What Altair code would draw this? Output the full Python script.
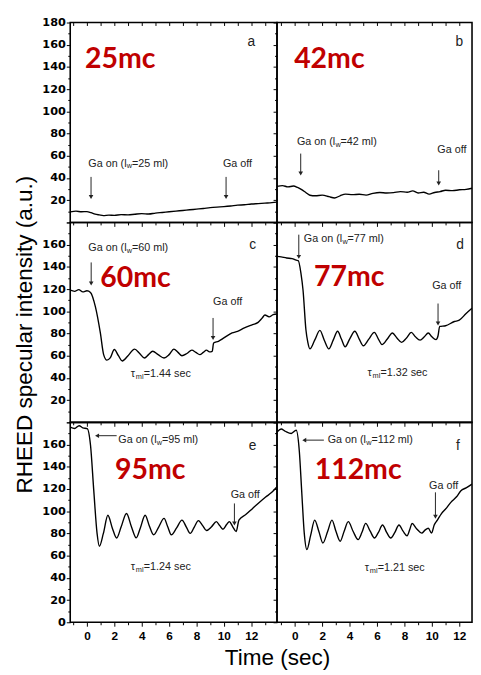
import altair as alt
import pandas as pd

# ---------------- data ----------------
t_a = [-1.2, -0.8, -0.4, 0.0, 0.3, 0.6, 0.9, 1.2, 1.6, 2.0, 2.5, 3.0, 3.5, 4.0, 4.5, 5.0, 5.5, 6.0, 6.5,
       7.0, 7.5, 8.0, 8.5, 9.0, 9.5, 10.0, 10.5, 11.0, 11.5, 12.0, 12.5, 13.0, 13.5, 13.88]
v_a = [9.5, 10.2, 9.6, 9.8, 8.8, 7.5, 6.8, 6.2, 6.6, 6.4, 7.0, 6.8, 7.4, 7.9, 7.6, 8.4, 9.0, 9.6, 10.2,
       10.8, 11.4, 12.0, 12.6, 13.3, 13.8, 14.2, 14.8, 15.6, 15.9, 16.6, 17.0, 17.4, 17.8, 18.3]

t_b = [-1.3, -0.9, -0.5, -0.1, 0.2, 0.5, 0.8, 1.1, 1.5, 2.0, 2.5, 2.9, 3.3, 3.7, 4.2, 4.7, 5.2, 5.7, 6.2,
       6.7, 7.2, 7.7, 8.2, 8.6, 9.0, 9.4, 9.8, 10.2, 10.6, 11.0, 11.5, 12.0, 12.5, 12.93]
v_b = [32.5, 33.2, 32.0, 32.8, 31.5, 29.5, 27.0, 24.5, 24.0, 24.6, 23.2, 22.0, 24.0, 25.5, 25.0, 25.4, 24.6,
       26.2, 27.0, 26.5, 26.8, 27.8, 27.2, 28.4, 26.5, 27.2, 25.5, 27.0, 27.8, 29.0, 28.6, 29.4, 29.8, 30.8]

t_c = [-1.22, -0.9, -0.6, -0.3, 0.0, 0.26, 0.62, 0.98, 1.22, 1.46, 1.7, 2.0, 2.3, 2.58, 3.0, 3.48, 3.85,
       4.2, 4.5, 4.8, 5.2, 5.63, 6.0, 6.35, 6.65, 6.94, 7.3, 7.66, 7.95, 8.24, 8.5, 8.73, 8.95, 9.15, 9.25,
       9.6, 10.0, 10.6, 11.0, 11.5, 12.1, 12.5, 12.8, 13.0, 13.3, 13.6, 13.88]
v_c = [119, 118, 119.5, 117.5, 118.5, 117, 104, 80.5, 61, 56, 58, 65.6, 60, 55.3, 60, 66, 62,
       58, 61, 64, 61, 58, 61, 66, 63, 60, 62, 65, 63, 61, 63, 65, 63.5, 64, 71.5,
       73, 76, 80.5, 82, 85, 88, 90, 94, 96.7, 95, 97, 97.6]

t_d = [-1.3, -1.0, -0.6, -0.2, 0.1, 0.25, 0.45, 0.6, 0.81, 0.95, 1.1, 1.45, 1.83, 2.15, 2.48, 2.8, 3.12,
       3.4, 3.67, 4.0, 4.38, 4.7, 5.0, 5.4, 5.8, 6.1, 6.36, 6.75, 7.12, 7.45, 7.79, 8.15, 8.5, 8.8, 9.14,
       9.45, 9.74, 10.0, 10.3, 10.45, 10.57, 11.0, 11.64, 12.0, 12.5, 12.93]
v_d = [149.5, 149, 148, 147.5, 146, 145.6, 134, 119, 83.4, 72, 66.2, 74, 82.8, 74, 66.2, 74, 82,
       75, 68, 75, 82, 75, 69, 75, 81, 75, 70, 75, 80.5, 76, 72, 76, 81, 77, 74,
       77, 80.5, 77, 74.5, 78, 86.4, 87, 90.8, 92, 98, 102.7]

t_e = [-1.22, -0.9, -0.57, -0.3, 0.02, 0.26, 0.5, 0.74, 0.91, 1.2, 1.53, 1.85, 2.17, 2.5, 2.89, 3.25, 3.6,
       3.9, 4.25, 4.55, 4.87, 5.25, 5.63, 5.9, 6.16, 6.55, 6.94, 7.25, 7.54, 7.85, 8.14, 8.45, 8.73, 9.1,
       9.45, 9.7, 9.93, 10.2, 10.4, 10.65, 10.9, 11.1, 11.6, 12.08, 12.5, 13.03, 13.5, 13.88]
v_e = [175.8, 174.5, 177, 175, 174.4, 159.6, 118.5, 80, 68.5, 80, 96.4, 85, 75.9, 86, 97.9, 86, 76,
       85, 96.4, 87, 78.8, 86, 93.5, 86, 78.8, 85, 92, 86, 80, 86, 91.5, 87, 82.6, 86,
       90.6, 87, 83.8, 88, 90.6, 86, 81.7, 92, 97, 102.3, 107, 112.6, 117, 122]

t_f = [-1.3, -1.0, -0.7, -0.26, 0.1, 0.33, 0.5, 0.69, 0.88, 1.15, 1.45, 1.75, 2.05, 2.4, 2.71, 3.0, 3.31,
       3.6, 3.9, 4.25, 4.62, 4.9, 5.17, 5.5, 5.81, 6.1, 6.4, 6.7, 7.0, 7.3, 7.6, 7.9, 8.19, 8.4, 8.55,
       8.9, 9.26, 9.5, 9.74, 9.98, 10.17, 10.4, 10.7, 11.0, 11.4, 11.8, 12.12, 12.5, 12.93]
v_f = [171.4, 174, 172, 170, 172.9, 153.8, 118.5, 80, 65.5, 78, 92, 82, 71.4, 82, 92, 82, 73,
       82, 90.6, 82, 74.4, 81, 89, 82, 75.9, 81, 87.6, 81, 75.9, 81, 87.6, 82, 77.9, 84, 89,
       84, 80.3, 83, 84.7, 80.3, 87.6, 92, 97.9, 102, 108.2, 113, 118.5, 121, 124.4]

panel_letters = ["a", "b", "c", "d", "e", "f"]
letter_x = [12.0, 12.0, 12.1, 12.05, 12.1, 11.9]
letter_y = [162, 162, 160, 160, 159, 159]

red_labels = ["25mc", "42mc", "60mc", "77mc", "95mc", "112mc"]
red_x = [-0.14, -0.05, 0.98, 1.4, 2.05, 1.45]
red_y = [147, 147, 130, 131, 137, 137]

on_pre = "Ga on (l"
on_sub = "w"
on_post = ["=25 ml)", "=42 ml)", "=60 ml)", "=77 ml)", "=95 ml)", "=112 ml)"]
on_x = [0.1, 0.15, 0.1, 0.66, 2.29, 2.4]
on_y = [53, 72, 156.6, 165, 164, 164]

off_text = "Ga off"
off_x = [9.93, 10.4, 9.21, 10.02, 10.5, 9.8]
off_y = [53, 65.6, 108.6, 122.5, 114.6, 122.9]

# arrows: start (x1, y1) -> tip (x2, y2)
arr_on_x1 = [0.3, 0.43, 0.31, 0.29, 2.17, 2.12]
arr_on_y1 = [41, 62, 144, 169, 168, 164]
arr_on_x2 = [0.3, 0.43, 0.31, 0.29, 0.74, 0.69]
arr_on_y2 = [23, 44, 125, 149, 168, 164]
arr_on_shape = ["triangle-down", "triangle-down", "triangle-down", "triangle-down", "triangle-left", "triangle-left"]
arr_off_x = [10.16, 10.5, 9.21, 10.45, 10.77, 10.26]
arr_off_y1 = [41, 47, 94, 107, 107, 117]
arr_off_y2 = [23, 35, 76, 89, 89, 95]

tau_main = "\u03c4"
tau_sub = "ml"
tau_post = [None, None, "=1.44 sec", "=1.32 sec", "=1.24 sec", "=1.21 sec"]
tau_x = [None, None, 3.2, 5.3, 3.2, 5.1]
tau_y = [None, None, 43.4, 44, 50, 49]

T = [t_a, t_b, t_c, t_d, t_e, t_f]
V = [v_a, v_b, v_c, v_d, v_e, v_f]

# ---------------- layout ----------------
LEFT_DOM = [-1.22, 13.88]
RIGHT_DOM = [-1.3, 12.93]
W_L, W_R, H = 211, 199, 204
INK = "#222222"
ANN_FONT = "Liberation Sans"


def build_panel(i):
    row, col = divmod(i, 2)
    left = col == 0
    dom = LEFT_DOM if left else RIGHT_DOM
    width = W_L if left else W_R
    xticks = list(range(-1, 14)) if left else list(range(-1, 13))
    bottom = row == 2

    xkw = dict(values=xticks, domain=False, grid=False, tickColor="black", tickWidth=1,
               tickSize={"condition": {"test": "datum.value % 2 == 0", "value": 4}, "value": 2.5})
    if bottom:
        xkw.update(labels=True, labelExpr="datum.value >= 0 && datum.value <= 12 && datum.value % 2 == 0 ? datum.label : ''",
                   labelFont="Liberation Sans", labelFontWeight="bold", labelFontSize=12, labelColor="black",
                   labelPadding=5)
    else:
        xkw.update(labels=False)
    if bottom and left:
        xkw.update(title="Time (sec)", titleFont="Liberation Sans", titleFontSize=23, titleFontWeight="normal",
                   titleColor="black", titleX=211, titleY=36, titleBaseline="middle", titleAlign="center")
    else:
        xkw.update(title=None)
    xaxis = alt.Axis(**xkw)

    # ticks along the top border, pointing into the panel (first row only)
    top_axis = alt.Axis(orient="top", values=xticks, domain=False, grid=False, labels=False, title=None,
                        tickColor="black", tickWidth=1, tickSize=3, offset=-3)

    lo, hi = [(20, 180), (20, 160), (0, 160)][row]
    ykw = dict(values=list(range(0, 181, 10)), domain=False, grid=False, tickColor="black", tickWidth=1,
               tickSize={"condition": {"test": "datum.value % 20 == 0", "value": 4}, "value": 2.5})
    if left:
        ykw.update(labels=True,
                   labelExpr=f"datum.value % 20 == 0 && datum.value >= {lo} && datum.value <= {hi} ? datum.label : ''",
                   labelFont="DejaVu Sans", labelFontWeight="bold", labelFontSize=11.5, labelColor="black",
                   labelPadding=1)
    else:
        ykw.update(labels=False)
    if left and row == 1:
        ykw.update(title="RHEED specular intensity (a.u.)", titleFont="Liberation Sans", titleFontSize=23,
                   titleFontWeight="normal", titleColor="black", titleX=-46, titleY=114,
                   titleBaseline="middle", titleAlign="center", titleAngle=270)
    else:
        ykw.update(title=None)
    yaxis = alt.Axis(**ykw)

    xs = alt.Scale(domain=dom, nice=False, zero=False)
    ys = alt.Scale(domain=[0, 180], nice=False)

    def X(ax=None):
        if ax is None:
            return alt.X("t:Q", scale=xs, axis=None)
        return alt.X("t:Q", scale=xs, axis=ax)

    def Y():
        return alt.Y("v:Q", scale=ys, axis=yaxis)

    layers = []
    line_df = pd.DataFrame({"t": T[i], "v": V[i]})
    layers.append(alt.Chart(line_df).mark_line(color="black", strokeWidth=1.4, interpolate="monotone", clip=True)
                  .encode(x=X(xaxis), y=Y()))

    red_df = pd.DataFrame({"t": [red_x[i]], "v": [red_y[i]], "txt": [red_labels[i]]})
    layers.append(alt.Chart(red_df).mark_text(align="left", baseline="middle", font="Lato", fontWeight="bold",
                                              fontSize=29, color="#C00000")
                  .encode(x=X(), y=Y(), text="txt:N"))

    let_df = pd.DataFrame({"t": [letter_x[i]], "v": [letter_y[i]], "txt": [panel_letters[i]]})
    layers.append(alt.Chart(let_df).mark_text(align="center", baseline="middle", font=ANN_FONT,
                                              fontSize=14, color=INK)
                  .encode(x=X(top_axis if row == 0 else None), y=Y(), text="txt:N"))

    on_df = pd.DataFrame({"t": [on_x[i]], "v": [on_y[i]], "p1": [on_pre], "p2": [on_sub], "p3": [on_post[i]]})
    layers.append(alt.Chart(on_df).mark_text(align="left", baseline="middle", font=ANN_FONT, fontSize=11, color=INK)
                  .encode(x=X(), y=Y(), text="p1:N"))
    layers.append(alt.Chart(on_df).mark_text(align="left", baseline="middle", font=ANN_FONT, fontSize=7.5,
                                             color=INK, dx=39.3, dy=3)
                  .encode(x=X(), y=Y(), text="p2:N"))
    layers.append(alt.Chart(on_df).mark_text(align="left", baseline="middle", font=ANN_FONT, fontSize=11,
                                             color=INK, dx=44.6)
                  .encode(x=X(), y=Y(), text="p3:N"))

    off_df = pd.DataFrame({"t": [off_x[i]], "v": [off_y[i]], "txt": [off_text]})
    layers.append(alt.Chart(off_df).mark_text(align="left", baseline="middle", font=ANN_FONT, fontSize=11, color=INK)
                  .encode(x=X(), y=Y(), text="txt:N"))

    arr_df = pd.DataFrame({"t": [arr_on_x1[i], arr_off_x[i]], "v": [arr_on_y1[i], arr_off_y1[i]],
                           "t2": [arr_on_x2[i], arr_off_x[i]], "v2": [arr_on_y2[i], arr_off_y2[i]]})
    layers.append(alt.Chart(arr_df).mark_rule(color=INK, strokeWidth=1)
                  .encode(x=X(), y=Y(), x2="t2:Q", y2="v2:Q"))
    tip_df = pd.DataFrame({"t": [arr_on_x2[i], arr_off_x[i]], "v": [arr_on_y2[i], arr_off_y2[i]],
                           "shp": [arr_on_shape[i], "triangle-down"]})
    layers.append(alt.Chart(tip_df).mark_point(filled=True, size=22, color=INK, opacity=1)
                  .encode(x=X(), y=Y(), shape=alt.Shape("shp:N", scale=None)))

    if tau_post[i] is not None:
        tau_df = pd.DataFrame({"t": [tau_x[i]], "v": [tau_y[i]], "p1": [tau_main], "p2": [tau_sub],
                               "p3": [tau_post[i]]})
        layers.append(alt.Chart(tau_df).mark_text(align="left", baseline="middle", font=ANN_FONT, fontSize=11,
                                                  color=INK)
                      .encode(x=X(), y=Y(), text="p1:N"))
        layers.append(alt.Chart(tau_df).mark_text(align="left", baseline="middle", font=ANN_FONT, fontSize=7.5,
                                                  color=INK, dx=5.2, dy=3)
                      .encode(x=X(), y=Y(), text="p2:N"))
        layers.append(alt.Chart(tau_df).mark_text(align="left", baseline="middle", font=ANN_FONT, fontSize=11,
                                                  color=INK, dx=13.3)
                      .encode(x=X(), y=Y(), text="p3:N"))

    return (alt.layer(*layers).resolve_axis(x="independent")
            .properties(width=width, height=H))


panels = [build_panel(i) for i in range(6)]

chart = (alt.concat(*panels, columns=2, spacing=0, bounds="flush")
         .properties(padding={"left": 5.5, "top": 1, "right": 0, "bottom": 0}, background="white")
         .configure_view(stroke="black", strokeWidth=1.6))

chart.save("out.html", embed_options={"renderer": "svg", "actions": False})
